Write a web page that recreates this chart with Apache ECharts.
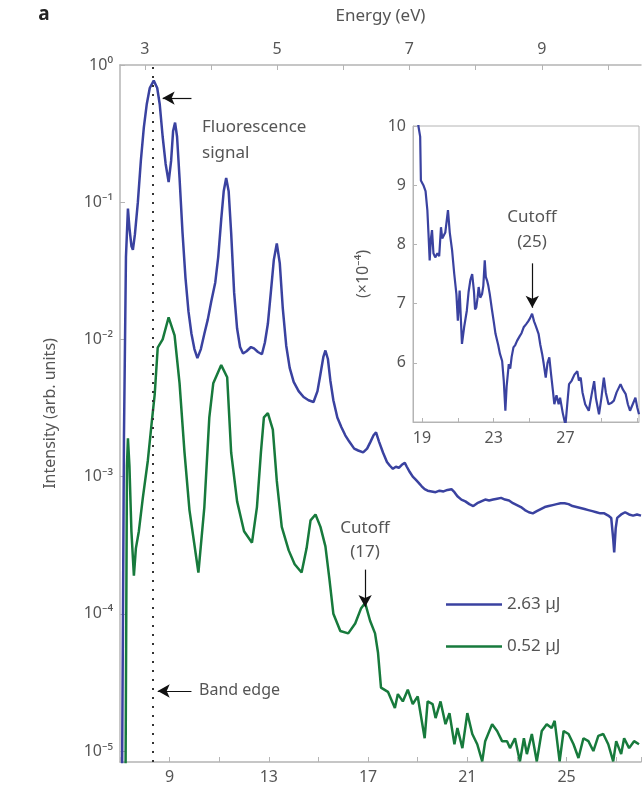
<!DOCTYPE html>
<html>
<head>
<meta charset="utf-8">
<script src="https://cdn.jsdelivr.net/npm/echarts@6/dist/echarts.min.js"></script>
<style>
  html, body { margin: 0; padding: 0; background: #fff; }
  #chart { width: 644px; height: 786px; }
</style>
</head>
<body>
<div id="chart"></div>
<script>
// harmonic order (bottom axis) and intensity, 2.63 uJ
const blueOrder = [7.08, 7.16, 7.24, 7.32, 7.38, 7.46, 7.52, 7.6, 7.72, 7.84, 7.96, 8.08, 8.2, 8.36, 8.5, 8.6, 8.72, 8.84, 8.96,
  9.06, 9.14, 9.22, 9.3, 9.4, 9.52, 9.64, 9.76, 9.88, 10.0, 10.12, 10.26, 10.4, 10.54, 10.68, 10.84, 10.96,
  11.08, 11.18, 11.28, 11.38, 11.48, 11.6, 11.72, 11.84, 11.96, 12.1, 12.28, 12.4, 12.56, 12.72, 12.84, 12.96,
  13.08, 13.2, 13.32, 13.44, 13.56, 13.7, 13.84, 14.0, 14.2, 14.4, 14.6, 14.8, 14.96, 15.08, 15.2, 15.28, 15.38,
  15.48, 15.6, 15.76, 15.92, 16.08, 16.24, 16.44, 16.6, 16.8, 16.96, 17.1, 17.22, 17.32, 17.44, 17.6, 17.76,
  17.88, 18.0, 18.12, 18.24, 18.36, 18.48, 18.56, 18.68, 18.8, 18.92, 19.04, 19.16, 19.28, 19.4, 19.56, 19.72,
  19.88, 20.04, 20.2, 20.36, 20.48, 20.6, 20.76, 20.92, 21.08, 21.24, 21.4, 21.56, 21.72, 21.88, 22.04, 22.2,
  22.36, 22.52, 22.68, 22.84, 23.0, 23.16, 23.32, 23.48, 23.64, 23.8, 23.96, 24.12, 24.28, 24.44, 24.6, 24.76,
  24.92, 25.08, 25.24, 25.4, 25.56, 25.72, 25.88, 26.04, 26.2, 26.36, 26.52, 26.68, 26.8, 26.88, 26.92, 26.98,
  27.04, 27.2, 27.36, 27.52, 27.68, 27.84, 28.0];
const blueIntensity = [5e-6, 0.002, 0.04, 0.09, 0.065, 0.048, 0.045, 0.058, 0.1, 0.2, 0.35, 0.52, 0.68, 0.77, 0.68, 0.52, 0.3, 0.19, 0.14,
  0.2, 0.33, 0.38, 0.3, 0.15, 0.06, 0.028, 0.016, 0.011, 0.0085, 0.0073, 0.0085, 0.011, 0.014, 0.019, 0.026, 0.04,
  0.075, 0.12, 0.15, 0.12, 0.06, 0.022, 0.012, 0.0088, 0.0079, 0.0082, 0.0088, 0.0086, 0.0081, 0.0078, 0.0095, 0.013,
  0.022, 0.038, 0.05, 0.036, 0.017, 0.009, 0.0062, 0.0049, 0.0042, 0.0038, 0.0036, 0.0035, 0.0042, 0.0056, 0.0075, 0.0083, 0.0072,
  0.005, 0.0036, 0.0027, 0.0023, 0.002, 0.0018, 0.0016, 0.00155, 0.0015, 0.0016, 0.0018, 0.002, 0.0021, 0.0018, 0.0015, 0.00128,
  0.0012, 0.00114, 0.00118, 0.00116, 0.00122, 0.00126, 0.00118, 0.00108, 0.001, 0.00095, 0.0009, 0.00085, 0.00081, 0.00079, 0.00078, 0.00077,
  0.00079, 0.00078, 0.0008, 0.00081, 0.00077, 0.00072, 0.00068, 0.00066, 0.00063, 0.00061, 0.00064, 0.00066, 0.00068, 0.00067, 0.00068, 0.00069,
  0.0007, 0.00068, 0.00067, 0.00064, 0.00062, 0.0006, 0.00057, 0.00055, 0.00054, 0.00056, 0.00058, 0.0006, 0.00061, 0.00062, 0.00063, 0.00064,
  0.00064, 0.00063, 0.00061, 0.0006, 0.00059, 0.00058, 0.00057, 0.00056, 0.00055, 0.00054, 0.00054, 0.00052, 0.0005, 0.00035, 0.00028, 0.00042,
  0.0005, 0.00053, 0.00055, 0.00053, 0.00052, 0.00053, 0.00052];

// 0.52 uJ
const greenOrder = [7.22, 7.28, 7.32, 7.38, 7.46, 7.56, 7.64, 7.76, 7.92, 8.12, 8.28, 8.4, 8.52, 8.72, 8.96, 9.2, 9.4, 9.6, 9.8, 10.16,
  10.4, 10.6, 10.76, 11.08, 11.32, 11.48, 11.72, 12.0, 12.32, 12.52, 12.68, 12.8, 12.96, 13.16, 13.32, 13.52, 13.8, 14.04, 14.32,
  14.52, 14.68, 14.88, 15.08, 15.28, 15.44, 15.6, 15.88, 16.2, 16.48, 16.72, 16.88, 17.08, 17.28, 17.4, 17.52, 17.8,
  18.08, 18.2, 18.4, 18.6, 18.8, 19.0, 19.28, 19.4, 19.6, 19.72, 19.92, 20.12, 20.28, 20.48, 20.6, 20.8, 21.0, 21.2,
  21.4, 21.6, 21.72, 22.0, 22.2, 22.4, 22.6, 22.72, 22.92, 23.12, 23.28, 23.4, 23.6, 23.8, 24.0, 24.2, 24.4, 24.52,
  24.72, 24.88, 25.08, 25.28, 25.48, 25.68, 25.88, 26.08, 26.28, 26.48, 26.68, 26.88, 27.0, 27.2, 27.32, 27.52, 27.72, 27.92];
const greenIntensity = [5e-6, 0.0012, 0.0019, 0.0012, 0.0004, 0.00019, 0.0003, 0.0004, 0.0007, 0.0013, 0.0025, 0.004, 0.0087, 0.01, 0.0145, 0.0107, 0.0048, 0.0015, 0.00057, 0.0002,
  0.0006, 0.0027, 0.0048, 0.0065, 0.0053, 0.0015, 0.00066, 0.0004, 0.00033, 0.0006, 0.0015, 0.0027, 0.0029, 0.0022, 0.00093, 0.00043, 0.00029, 0.00023, 0.0002,
  0.0003, 0.00048, 0.00053, 0.00043, 0.00031, 0.00018, 0.0001, 7.5e-5, 7.2e-5, 8.5e-5, 1.1e-4, 1.2e-4, 8.9e-5, 7.2e-5, 5.2e-5, 2.9e-5, 2.7e-5,
  2.06e-5, 2.6e-5, 2.3e-5, 2.8e-5, 2.2e-5, 2.5e-5, 1.24e-5, 2.3e-5, 2.2e-5, 1.74e-5, 2.3e-5, 1.57e-5, 1.89e-5, 1.12e-5, 1.47e-5, 1.05e-5, 1.89e-5, 1.33e-5,
  1.12e-5, 8.4e-6, 1.18e-5, 1.57e-5, 1.4e-5, 1.18e-5, 1.18e-5, 1.05e-5, 1.24e-5, 8.4e-6, 1.24e-5, 9.5e-6, 1.33e-5, 8.4e-6, 1.4e-5, 1.57e-5, 1.47e-5, 1.66e-5,
  8.4e-6, 1.4e-5, 1.33e-5, 1.12e-5, 8.9e-6, 1.24e-5, 1.18e-5, 1.0e-5, 1.29e-5, 1.33e-5, 1.12e-5, 8.4e-6, 1.18e-5, 9.5e-6, 1.24e-5, 1.05e-5, 1.18e-5, 1.12e-5];

// inset: 2.63 uJ tail, intensity in units of 1e-4
const insetOrder = [18.6, 18.8, 18.9, 18.94, 19.08, 19.2, 19.3, 19.36, 19.43, 19.5, 19.56, 19.64, 19.74, 19.86, 19.96, 20.06, 20.13,
  20.2, 20.3, 20.45, 20.55, 20.68, 20.8, 20.92, 21.0, 21.1, 21.16, 21.23, 21.35, 21.5, 21.6, 21.7, 21.8, 21.9, 21.96, 22.03,
  22.1, 22.16, 22.25, 22.35, 22.42, 22.5, 22.56, 22.63, 22.7, 22.78, 22.9, 23.0, 23.1, 23.25, 23.35, 23.47, 23.56, 23.65,
  23.72, 23.84, 23.92, 24.0, 24.1, 24.2, 24.3, 24.45, 24.55, 24.67, 24.8, 24.92, 25.02, 25.14, 25.25, 25.35, 25.5, 25.6,
  25.7, 25.78, 25.9, 26.0, 26.1, 26.2, 26.3, 26.38, 26.5, 26.62, 26.7, 26.85, 27.0, 27.1, 27.2, 27.35, 27.5, 27.66, 27.75,
  27.85, 27.95, 28.1, 28.3, 28.45, 28.6, 28.7, 28.87, 29.0, 29.14, 29.25, 29.4, 29.55, 29.7, 29.85, 30.07, 30.2, 30.36,
  30.48, 30.6, 30.75, 30.9, 31.0, 31.1];
const insetIntensity = [10.6, 10.0, 9.82, 9.08, 9.0, 8.9, 8.58, 8.2, 7.73, 8.1, 8.24, 7.85, 7.78, 7.85, 7.8, 8.29, 8.1,
  8.07, 8.2, 8.58, 8.2, 7.9, 7.5, 7.16, 6.71, 7.22, 6.8, 6.32, 6.6, 6.88, 7.2, 7.4, 7.5, 7.2, 6.9, 6.94,
  7.1, 7.28, 7.1, 7.16, 7.3, 7.73, 7.45, 7.39, 7.3, 7.16, 6.9, 6.7, 6.49, 6.3, 6.15, 6.03, 5.7, 5.19,
  5.6, 5.98, 5.9, 6.1, 6.26, 6.3, 6.37, 6.45, 6.5, 6.6, 6.65, 6.7, 6.75, 6.83, 6.7, 6.62, 6.49, 6.3,
  6.15, 6.0, 5.75, 6.0, 6.09, 5.8, 5.53, 5.3, 5.45, 5.3, 5.41, 5.15, 4.95, 5.3, 5.64, 5.7, 5.8, 5.86, 5.7,
  5.75, 5.5, 5.3, 5.19, 5.45, 5.69, 5.4, 5.13, 5.4, 5.75, 5.5, 5.3, 5.32, 5.36, 5.5, 5.64, 5.55, 5.47,
  5.3, 5.19, 5.3, 5.41, 5.25, 5.13];

const seriesNames = ['2.63 µJ', '0.52 µJ'];
const orderLabels = [9, 13, 17, 21, 25];
const energyTicks = [3, 4, 5, 6, 7, 8, 9, 10];
const energyLabels = [3, 5, 7, 9];
const insetXTicks = [19, 21, 23, 25, 27, 29, 31];
const insetXLabels = [19, 23, 27];
const insetYLabels = [6, 7, 8, 9, 10];
const eVPerOrder = 0.375;
const bandEdgeOrder = 8.32;

const BLUE = '#3a42a0';
const GREEN = '#177a3c';
const AXIS = '#b4b4b4';
const TXT = '#555';
const FONT = 'Noto Sans';

const SUP = { '-': '⁻', '0': '⁰', '1': '¹', '2': '²', '3': '³', '4': '⁴', '5': '⁵' };
function pow10Label(v) {
  const l = Math.log10(v);
  const e = Math.round(l);
  if (Math.abs(l - e) > 0.01) return '';
  return '10' + String(e).split('').map(c => SUP[c]).join('');
}

const pairs = (xs, ys) => xs.map((x, i) => [x, ys[i]]);
const arrowLine = (from, to) => [{ coord: from }, { coord: to }];

const chart = echarts.init(document.getElementById('chart'));

chart.setOption({
  animation: false,
  textStyle: { fontFamily: FONT },
  grid: [
    { left: 120, top: 65, right: 0, bottom: 24 },
    { left: 413, top: 126, width: 226, height: 296, show: true, borderColor: AXIS, borderWidth: 1, backgroundColor: '#fff' }
  ],
  legend: {
    data: seriesNames,
    orient: 'vertical',
    left: 441, top: 591,
    itemWidth: 56, itemHeight: 14, itemGap: 25,
    icon: 'path://M0,6 L56,6 L56,8.5 L0,8.5 Z',
    textStyle: { fontSize: 17, color: TXT, fontFamily: FONT }
  },
  xAxis: [
    {
      type: 'value', gridIndex: 0, position: 'bottom',
      min: 7, max: 28, interval: 2,
      axisLine: { lineStyle: { color: AXIS, width: 1.5 } },
      axisTick: { inside: true, length: 5, lineStyle: { color: AXIS } },
      axisLabel: {
        color: TXT, fontSize: 16, margin: 7,
        formatter: v => orderLabels.includes(v) ? String(v) : ''
      },
      splitLine: { show: false }
    },
    {
      type: 'value', gridIndex: 0, position: 'top',
      min: 7 * eVPerOrder, max: 28 * eVPerOrder,
      name: 'Energy (eV)', nameLocation: 'middle', nameGap: 40,
      nameTextStyle: { color: TXT, fontSize: 17 },
      axisLine: { lineStyle: { color: AXIS, width: 1.5 } },
      axisTick: { inside: true, length: 5, lineStyle: { color: AXIS }, customValues: energyTicks },
      axisLabel: { color: TXT, fontSize: 16, margin: 8, customValues: energyLabels },
      splitLine: { show: false }
    },
    {
      type: 'value', gridIndex: 1,
      min: 18.5, max: 31.1,
      axisLine: { lineStyle: { color: AXIS } },
      axisTick: { inside: true, length: 4, lineStyle: { color: AXIS }, customValues: insetXTicks },
      axisLabel: { color: TXT, fontSize: 16, margin: 8, customValues: insetXLabels },
      splitLine: { show: false }
    }
  ],
  yAxis: [
    {
      type: 'log', gridIndex: 0, logBase: 10,
      min: Math.pow(10, -5.08), max: 1,
      name: 'Intensity (arb. units)', nameLocation: 'middle', nameGap: 62,
      nameTextStyle: { color: TXT, fontSize: 16 },
      axisLine: { show: true, lineStyle: { color: AXIS, width: 1.5 } },
      axisTick: { show: true, inside: true, length: 5, lineStyle: { color: AXIS } },
      minorTick: { show: false },
      axisLabel: { color: TXT, fontSize: 16, margin: 7, formatter: pow10Label },
      splitLine: { show: false }
    },
    {
      type: 'value', gridIndex: 1,
      min: 5, max: 10, interval: 1,
      name: '(×10⁻⁴)', nameLocation: 'middle', nameGap: 42,
      nameTextStyle: { color: TXT, fontSize: 16 },
      axisLine: { show: true, lineStyle: { color: AXIS } },
      axisTick: { show: true, inside: true, length: 4, lineStyle: { color: AXIS } },
      axisLabel: { color: TXT, fontSize: 16, margin: 7, formatter: v => insetYLabels.includes(v) ? String(v) : '' },
      splitLine: { show: false }
    }
  ],
  series: [
    {
      name: seriesNames[0], type: 'line', xAxisIndex: 0, yAxisIndex: 0,
      data: pairs(blueOrder, blueIntensity),
      symbol: 'none', lineStyle: { color: BLUE, width: 2.5 }, itemStyle: { color: BLUE },
      z: 3,
      markLine: {
        silent: true, animation: false,
        label: { show: false },
        data: [
          arrowLine([9.88, 0.574], [8.72, 0.574]),
          arrowLine([9.88, 2.74e-5], [8.52, 2.74e-5]),
          arrowLine([16.88, 2.1e-4], [16.88, 1.12e-4])
        ],
        symbol: ['none', 'arrow'], symbolSize: [10, 12],
        lineStyle: { type: 'solid', color: '#111', width: 1.2 }
      }
    },
    {
      name: seriesNames[1], type: 'line', xAxisIndex: 0, yAxisIndex: 0,
      data: pairs(greenOrder, greenIntensity),
      symbol: 'none', lineStyle: { color: GREEN, width: 2.5 }, itemStyle: { color: GREEN },
      z: 2,
      markLine: {
        silent: true, animation: false,
        label: { show: false },
        symbol: ['none', 'none'],
        lineStyle: { type: [2, 7], width: 2, color: '#333' },
        data: [{ xAxis: bandEdgeOrder }]
      }
    },
    {
      name: 'inset', type: 'line', xAxisIndex: 2, yAxisIndex: 1,
      data: pairs(insetOrder, insetIntensity),
      symbol: 'none', lineStyle: { color: BLUE, width: 2.2 }, itemStyle: { color: BLUE },
      z: 3,
      markLine: {
        silent: true, animation: false,
        label: { show: false },
        symbol: ['none', 'arrow'], symbolSize: [10, 12],
        lineStyle: { type: 'solid', color: '#111', width: 1.2 },
        data: [arrowLine([25.15, 7.68], [25.15, 6.93])]
      }
    }
  ],
  graphic: [
    { type: 'text', x: 44, y: 15, style: { text: 'a', font: 'bold 19px ' + FONT, fill: '#222', textAlign: 'center', textVerticalAlign: 'middle' } },
    { type: 'text', x: 202, y: 140, style: { text: 'Fluorescence\nsignal', font: '17px ' + FONT, fill: TXT, lineHeight: 26, textAlign: 'left', textVerticalAlign: 'middle' } },
    { type: 'text', x: 199, y: 690, style: { text: 'Band edge', font: '16px ' + FONT, fill: TXT, textAlign: 'left', textVerticalAlign: 'middle' } },
    { type: 'text', x: 365, y: 540, style: { text: 'Cutoff\n(17)', font: '17px ' + FONT, fill: TXT, lineHeight: 24, textAlign: 'center', textVerticalAlign: 'middle' } },
    { type: 'text', x: 532, y: 230, style: { text: 'Cutoff\n(25)', font: '17px ' + FONT, fill: TXT, lineHeight: 25, textAlign: 'center', textVerticalAlign: 'middle' } }
  ]
});
</script>
</body>
</html>
